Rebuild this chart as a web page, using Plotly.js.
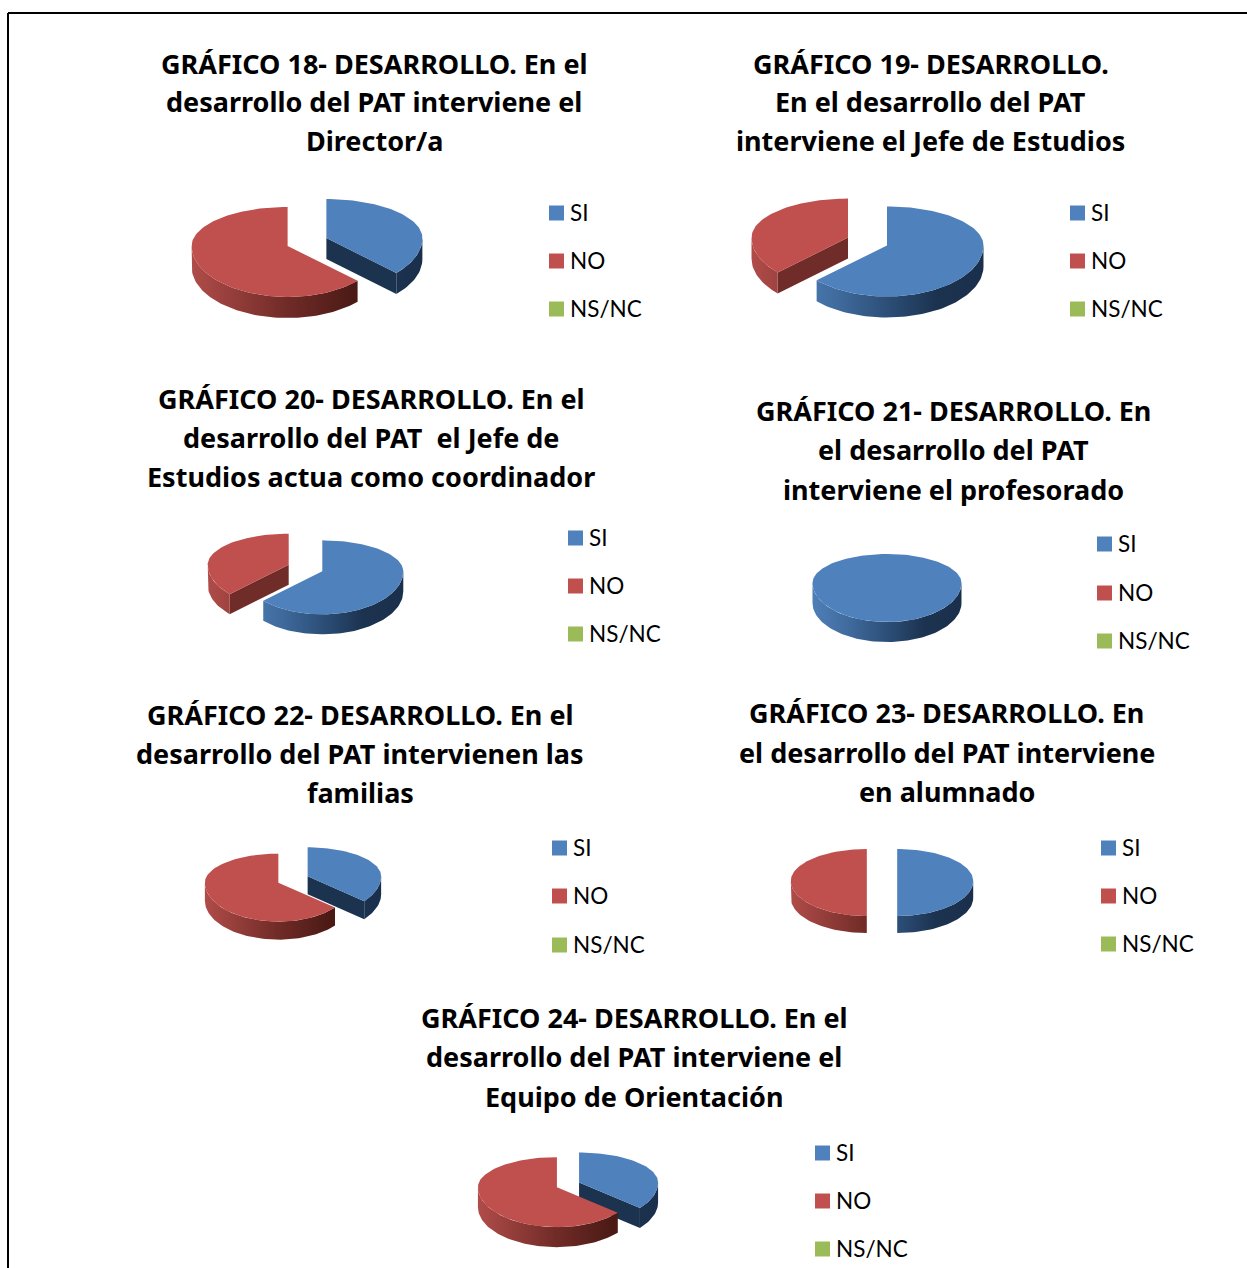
<!DOCTYPE html>
<html><head><meta charset="utf-8">
<script src="https://cdn.plot.ly/plotly-3.0.1.min.js"></script>
<style>html,body{margin:0;padding:0;background:#fff}#chart{width:1247px;height:1268px}</style>
</head><body><div id="chart"></div>
<script>
// ---- data ----
var categories = ['SI', 'NO', 'NS/NC'];
var chartNumbers = [18, 19, 20, 21, 22, 23, 24];
var valuesSI   = [37, 63, 63, 100, 36, 50, 36];
var valuesNO   = [63, 37, 37, 0, 64, 50, 64];
var valuesNSNC = [0, 0, 0, 0, 0, 0, 0];
var titleLines = [
  ['GRÁFICO 18- DESARROLLO. En el', 'desarrollo del PAT interviene el', 'Director/a'],
  ['GRÁFICO 19- DESARROLLO.', 'En el desarrollo del PAT', 'interviene el Jefe de Estudios'],
  ['GRÁFICO 20- DESARROLLO. En el', 'desarrollo del PAT  el Jefe de', 'Estudios actua como coordinador'],
  ['GRÁFICO 21- DESARROLLO. En', 'el desarrollo del PAT', 'interviene el profesorado'],
  ['GRÁFICO 22- DESARROLLO. En el', 'desarrollo del PAT intervienen las', 'familias'],
  ['GRÁFICO 23- DESARROLLO. En', 'el desarrollo del PAT interviene', 'en alumnado'],
  ['GRÁFICO 24- DESARROLLO. En el', 'desarrollo del PAT interviene el', 'Equipo de Orientación']
];

// ---- layout (pixels) ----
var W = 1247, H = 1268;
var pieCx    = [307, 867.5, 305.5, 887, 293, 882, 568];
var pieCy    = [241.5, 241, 567.5, 583, 879, 881, 1184.5];
var pieRx    = [96, 96.5, 81, 74.5, 73.5, 76, 79];
var pieBack  = [39, 39, 31, 29, 29, 32, 30];
var pieFront = [51, 51, 43, 39, 39, 35, 40];
var pieDepth = [21, 21, 20, 20, 18, 17, 20];
var piePull  = [0.22, 0.22, 0.226, 0, 0.22, 0.2, 0.155];
var titleCx  = [374, 931, 371, 953, 360, 947, 634];
var titleTop = [63, 63, 398, 410, 714, 713, 1017];
var titleGap = [39, 39, 39, 39.5, 39, 39, 39.5];
var legendX  = [549, 1070, 568, 1097, 552, 1101, 815];
var legendY  = [[213,261,309],[213,261,309],[538,586,634],[544,593,641],[848,896,945],[848,896,944],[1153,1201,1249]];

// ---- styles ----
var topColors = ['#4F81BD', '#C0504D', '#9BBB59'];
var wallScales = [
  [[0,'#4F7FB8'],[0.25,'#3F6A9C'],[0.5,'#2C4F78'],[0.75,'#1C3350'],[1,'#1A2F4B']],
  [[0,'#B04C49'],[0.5,'#702B27'],[0.85,'#4B1A15'],[1,'#4B1A15']],
  [[0,'#9BBB59'],[1,'#4F6228']]
];
var faceColors = ['#1C3350', '#702C29', '#4F6228'];
var fontLegend = 'Lato, sans-serif';
var fontTitle = '"Noto Sans", sans-serif';

var traces = [], shapes = [], annotations = [], layout = {};
var rad = function (d) { return d * Math.PI / 180; };

function addChart(i) {
  var vals = [valuesSI[i], valuesNO[i], valuesNSNC[i]];
  var total = vals[0] + vals[1] + vals[2];
  var rx = pieRx[i], back = pieBack[i] / rx, front = pieFront[i] / rx, depth = pieDepth[i] / rx;
  var suffix = i === 0 ? '' : String(i + 1);
  var xa = 'x' + suffix, ya = 'y' + suffix;
  var hx = 1.45, hy = 0.9;
  layout['xaxis' + suffix] = {domain: [(pieCx[i] - hx * rx) / W, (pieCx[i] + hx * rx) / W], range: [-hx, hx],
    visible: false, fixedrange: true, anchor: ya};
  layout['yaxis' + suffix] = {domain: [1 - (pieCy[i] + hy * rx) / H, 1 - (pieCy[i] - hy * rx) / H], range: [-hy, hy],
    visible: false, fixedrange: true, anchor: xa};

  function px(t) { return Math.sin(rad(t)); }
  function py(t) { var c = Math.cos(rad(t)); return (c > 0 ? back : front) * c; }
  function poly(xs, ys, opts, name) {
    var tr = {type: 'scatter', mode: 'lines', x: xs, y: ys, xaxis: xa, yaxis: ya, fill: 'toself',
      line: {width: 0}, hoverinfo: 'skip', showlegend: false, name: name};
    for (var k in opts) tr[k] = opts[k];
    traces.push(tr);
  }

  var nonZero = vals.filter(function (v) { return v > 0; }).length;
  var start = 0;
  vals.forEach(function (v, s) {
    if (v <= 0) return;
    var a = start, b = start + 360 * v / total;
    start = b;
    var mid = (a + b) / 2;
    var pull = nonZero > 1 ? piePull[i] : 0;
    var ox = pull * px(mid), oy = pull * py(mid);
    var name = 'Gráfico ' + chartNumbers[i] + ' ' + categories[s];

    [[a, a - 90], [b, b + 90]].forEach(function (f) {
      if (nonZero > 1 && Math.cos(rad(f[1])) < -1e-6) {
        var ex = ox + px(f[0]), ey = oy + py(f[0]);
        poly([ox, ex, ex, ox, ox], [oy, ey, ey - depth, oy - depth, oy],
             {fillcolor: faceColors[s]}, name);
      }
    });

    var w0 = Math.max(a, 90), w1 = Math.min(b, 270);
    if (w1 > w0) {
      var xs = [], ys = [], t;
      for (t = w0; t < w1; t += 2) { xs.push(ox + px(t)); ys.push(oy + py(t)); }
      xs.push(ox + px(w1)); ys.push(oy + py(w1));
      xs.push(ox + px(w1)); ys.push(oy + py(w1) - depth);
      for (t = w1; t > w0; t -= 2) { xs.push(ox + px(t)); ys.push(oy + py(t) - depth); }
      xs.push(ox + px(w0)); ys.push(oy + py(w0) - depth);
      poly(xs, ys, {fillcolor: faceColors[s],
        fillgradient: {type: 'horizontal', start: ox + 1, stop: ox - 1,
          colorscale: wallScales[s].map(function (c) { return [1 - c[0], c[1]]; }).reverse()}}, name);
    }

    var tx = [], ty = [], d;
    if (b - a < 360) { tx.push(ox); ty.push(oy); }
    for (d = a; d < b; d += 2) { tx.push(ox + px(d)); ty.push(oy + py(d)); }
    tx.push(ox + px(b)); ty.push(oy + py(b));
    if (b - a < 360) { tx.push(ox); ty.push(oy); }
    poly(tx, ty, {fillcolor: topColors[s]}, name);
  });

  titleLines[i].forEach(function (line, k) {
    annotations.push({xref: 'paper', yref: 'paper', x: titleCx[i] / W, y: 1 - (titleTop[i] + k * titleGap[i]) / H,
      xanchor: 'center', yanchor: 'middle', showarrow: false, text: line,
      font: {family: fontTitle, size: 27, color: '#000', weight: 700}});
  });

  categories.forEach(function (c, k) {
    var x = legendX[i], y = legendY[i][k];
    shapes.push({type: 'rect', xref: 'paper', yref: 'paper', x0: x / W, x1: (x + 15) / W,
      y0: 1 - (y + 7.5) / H, y1: 1 - (y - 7.5) / H, fillcolor: topColors[k], line: {width: 0}});
    annotations.push({xref: 'paper', yref: 'paper', x: (x + 21) / W, y: 1 - (y - 0.5) / H,
      xanchor: 'left', yanchor: 'middle', showarrow: false, text: c, xshift: -2,
      font: {family: fontLegend, size: 22.5, color: '#000'}});
  });
}

chartNumbers.forEach(function (n, i) { addChart(i); });

shapes.push({type: 'line', xref: 'paper', yref: 'paper', x0: 8 / W, x1: 8 / W, y0: 0, y1: 1 - 13 / H, line: {color: '#000', width: 2}});
shapes.push({type: 'line', xref: 'paper', yref: 'paper', x0: 8 / W, x1: 1, y0: 1 - 13 / H, y1: 1 - 13 / H, line: {color: '#000', width: 2}});

layout.width = W; layout.height = H;
layout.margin = {l: 0, r: 0, t: 0, b: 0, pad: 0};
layout.paper_bgcolor = '#fff'; layout.plot_bgcolor = 'rgba(0,0,0,0)';
layout.showlegend = false;
layout.shapes = shapes; layout.annotations = annotations;
Plotly.newPlot('chart', traces, layout, {displayModeBar: false, staticPlot: true});
</script></body></html>
